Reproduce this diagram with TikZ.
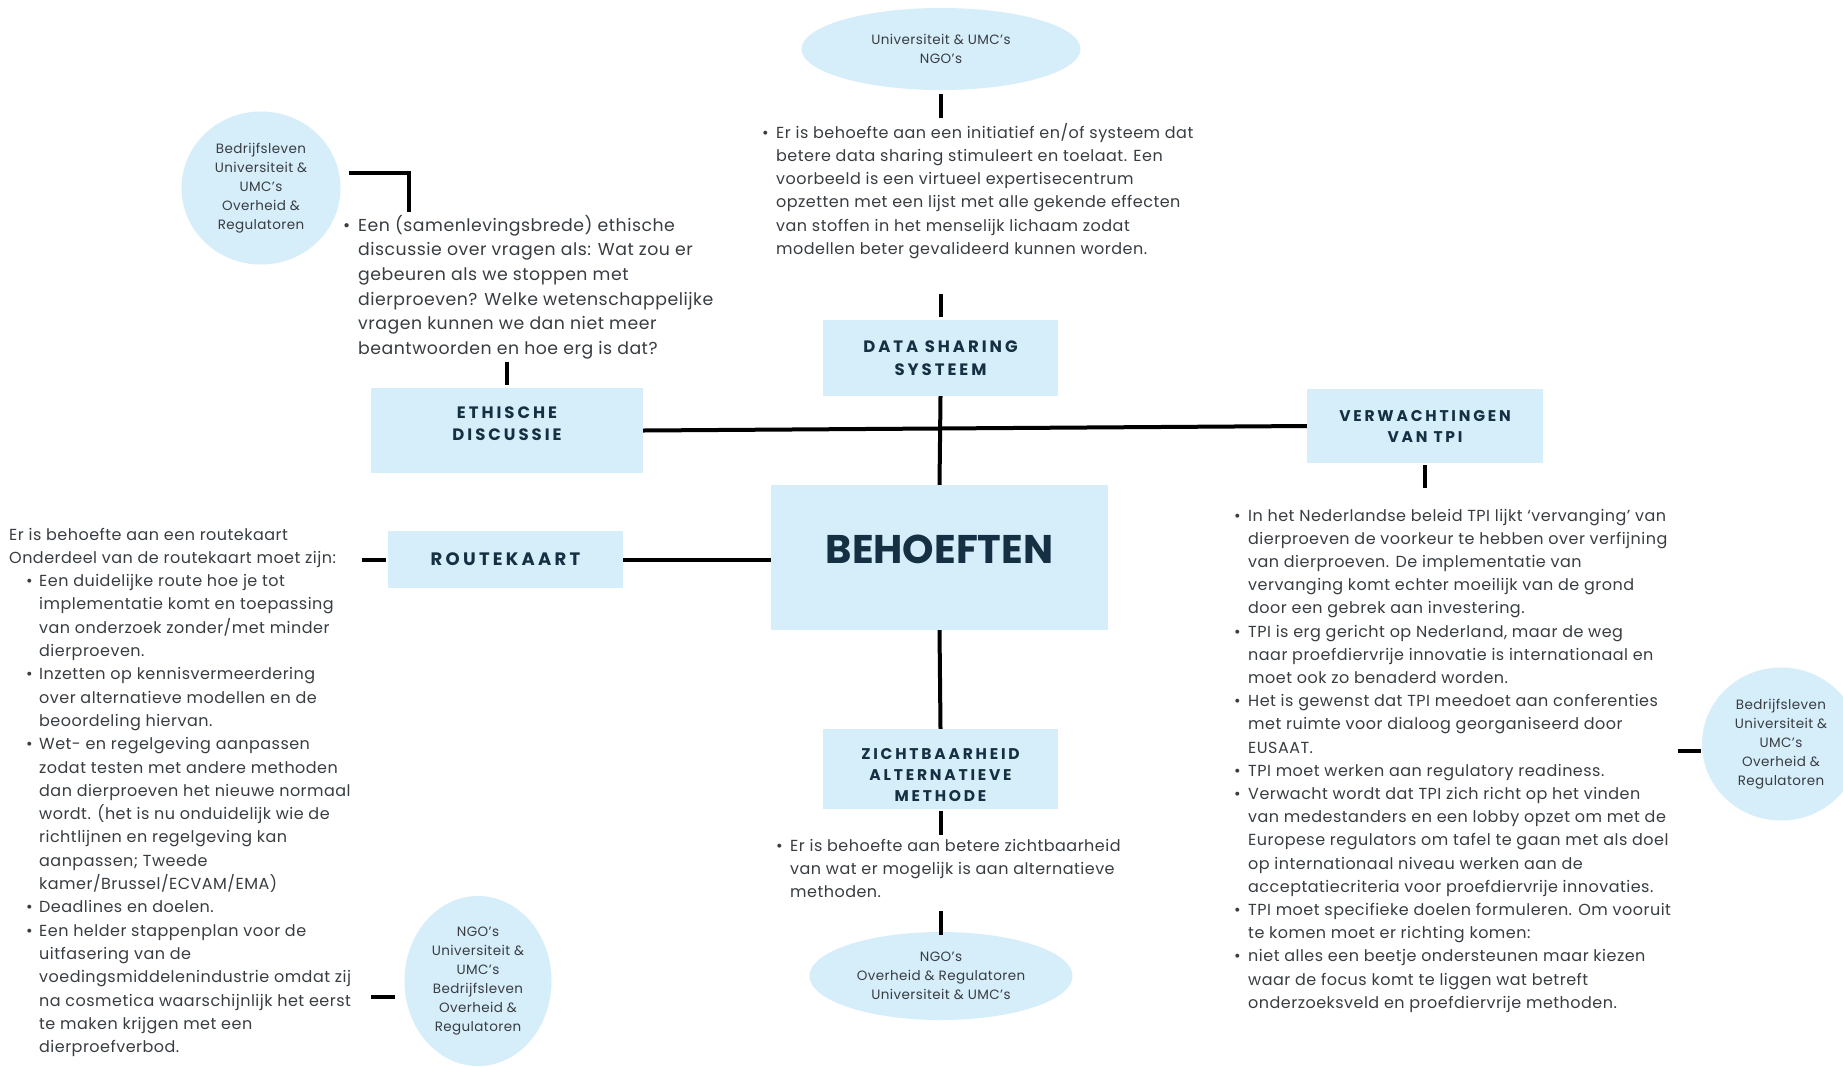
\documentclass[tikz,border=0pt]{standalone}
\usepackage{fontspec}
\setmainfont{Poppins}
\newfontfamily\headfont[LetterSpace=18]{Poppins}
\newfontfamily\bodyfont[LetterSpace=3]{Poppins}
\definecolor{boxblue}{rgb}{0.84,0.93,0.98}
\definecolor{headnavy}{rgb}{0.08,0.19,0.26}
\definecolor{bodygray}{rgb}{0.22,0.24,0.26}
\usetikzlibrary{shapes.geometric}

\begin{document}
\begin{tikzpicture}[x=1pt,y=-1pt,
  block/.style n args={2}{fill=boxblue,text=headnavy,align=center,inner sep=0pt,
    font=\headfont\bfseries\fontsize{#1}{#2}\selectfont},
  group/.style={ellipse,fill=boxblue,text=bodygray,align=center,inner sep=0pt,
    font=\bodyfont\fontsize{13.5}{19}\selectfont},
  info/.style n args={2}{text=bodygray,anchor=base west,inner sep=0pt,
    font=\bodyfont\fontsize{#1}{#2}\selectfont},
  link/.style={line width=4pt}]

  \useasboundingbox[fill=white] (0,0) rectangle (1843,1066);

  \node[block={40}{48},minimum width=337,minimum height=145,font=\bfseries\fontsize{40}{48}\selectfont]
    (beh) at (939.5,557.5) {\raisebox{16pt}{BEHOEFTEN}};
  \node[block={16.5}{23.5},minimum width=235,minimum height=76] (ds) at (940.5,358) {DATA SHARING\\SYSTEEM};
  \node[block={16.5}{22.5},minimum width=272,minimum height=85] (eth) at (507,430.5)
    {ETHISCHE\\DISCUSSIE\rule[-14pt]{0pt}{14pt}};
  \node[block={15.5}{21},minimum width=236,minimum height=74] (verw) at (1425,426) {VERWACHTINGEN\\VAN TPI};
  \node[block={18}{23},minimum width=235,minimum height=57] (rk) at (505.5,559.5) {ROUTEKAART};
  \node[block={15.5}{21},minimum width=235,minimum height=80] (zicht) at (940.5,769)
    {\rule{0pt}{24pt}ZICHTBAARHEID\\ALTERNATIEVE\\METHODE};

  \node[group,minimum width=279,minimum height=82] (topell) at (941,49) {Universiteit \& UMC’s\\NGO’s};
  \node[group,minimum width=159,minimum height=153] (tlcirc) at (261,188)
    {Bedrijfsleven\\Universiteit \&\\UMC’s\\Overheid \&\\Regulatoren};
  \node[group,minimum width=158,minimum height=153] (rcirc) at (1781,744)
    {Bedrijfsleven\\Universiteit \&\\UMC’s\\Overheid \&\\Regulatoren};
  \node[group,minimum width=147,minimum height=170] (blcirc) at (478,981)
    {NGO’s\\Universiteit \&\\UMC’s\\Bedrijfsleven\\Overheid \&\\Regulatoren};
  \node[group,minimum width=263,minimum height=88] (botell) at (941,976)
    {NGO’s\\Overheid \& Regulatoren\\Universiteit \& UMC’s};

  \node[info={16}{23.3}] (dstext) at (762,138) {%
    \begin{tabular}[t]{@{}p{14pt}@{}l@{}}
      \textbullet & Er is behoefte aan een initiatief en/of systeem dat\\
      & betere data sharing stimuleert en toelaat. Een\\
      & voorbeeld is een virtueel expertisecentrum\\
      & opzetten met een lijst met alle gekende effecten\\
      & van stoffen in het menselijk lichaam zodat\\
      & modellen beter gevalideerd kunnen worden.
    \end{tabular}};
  \node[info={17.3}{24.7}] (ethtext) at (343,231) {%
    \begin{tabular}[t]{@{}p{15pt}@{}l@{}}
      \textbullet & Een (samenlevingsbrede) ethische\\
      & discussie over vragen als: Wat zou er\\
      & gebeuren als we stoppen met\\
      & dierproeven? Welke wetenschappelijke\\
      & vragen kunnen we dan niet meer\\
      & beantwoorden en hoe erg is dat?
    \end{tabular}};
  \node[info={16}{23.2}] (verwtext) at (1234,521) {%
    \begin{tabular}[t]{@{}p{14pt}@{}l@{}}
      \textbullet & In het Nederlandse beleid TPI lijkt ‘vervanging’ van\\
      & dierproeven de voorkeur te hebben over verfijning\\
      & van dierproeven. De implementatie van\\
      & vervanging komt echter moeilijk van de grond\\
      & door een gebrek aan investering.\\
      \textbullet & TPI is erg gericht op Nederland, maar de weg\\
      & naar proefdiervrije innovatie is internationaal en\\
      & moet ook zo benaderd worden.\\
      \textbullet & Het is gewenst dat TPI meedoet aan conferenties\\
      & met ruimte voor dialoog georganiseerd door\\
      & EUSAAT.\\
      \textbullet & TPI moet werken aan regulatory readiness.\\
      \textbullet & Verwacht wordt dat TPI zich richt op het vinden\\
      & van medestanders en een lobby opzet om met de\\
      & Europese regulators om tafel te gaan met als doel\\
      & op internationaal niveau werken aan de\\
      & acceptatiecriteria voor proefdiervrije innovaties.\\
      \textbullet & TPI moet specifieke doelen formuleren. Om vooruit\\
      & te komen moet er richting komen:\\
      \textbullet & niet alles een beetje ondersteunen maar kiezen\\
      & waar de focus komt te liggen wat betreft\\
      & onderzoeksveld en proefdiervrije methoden.
    \end{tabular}};
  \node[info={16}{23.3}] (rktext) at (9,540) {%
    \begin{tabular}[t]{@{\hspace{17pt}}p{13pt}@{}l@{}}
      \multicolumn{2}{@{}l@{}}{Er is behoefte aan een routekaart}\\
      \multicolumn{2}{@{}l@{}}{Onderdeel van de routekaart moet zijn:}\\
      \textbullet & Een duidelijke route hoe je tot\\
      & implementatie komt en toepassing\\
      & van onderzoek zonder/met minder\\
      & dierproeven.\\
      \textbullet & Inzetten op kennisvermeerdering\\
      & over alternatieve modellen en de\\
      & beoordeling hiervan.\\
      \textbullet & Wet- en regelgeving aanpassen\\
      & zodat testen met andere methoden\\
      & dan dierproeven het nieuwe normaal\\
      & wordt. (het is nu onduidelijk wie de\\
      & richtlijnen en regelgeving kan\\
      & aanpassen; Tweede\\
      & kamer/Brussel/ECVAM/EMA)\\
      \textbullet & Deadlines en doelen.\\
      \textbullet & Een helder stappenplan voor de\\
      & uitfasering van de\\
      & voedingsmiddelenindustrie omdat zij\\
      & na cosmetica waarschijnlijk het eerst\\
      & te maken krijgen met een\\
      & dierproefverbod.
    \end{tabular}};
  \node[info={16}{23.3}] (zichttext) at (776,851) {%
    \begin{tabular}[t]{@{}p{14pt}@{}l@{}}
      \textbullet & Er is behoefte aan betere zichtbaarheid\\
      & van wat er mogelijk is aan alternatieve\\
      & methoden.
    \end{tabular}};

  \coordinate (brk) at (409,212);

  \draw[link] (ds.south) -- (beh.north);
  \draw[link] (eth.east) -- (verw.west);
  \draw[link] (rk.east) -- (rk.east -| beh.west);
  \draw[link] (beh.south) -- (zicht.north);
  \draw[link,shorten <=4pt,shorten >=3pt] (topell.south) -- (topell.south |- dstext.north);
  \draw[link] ([yshift=3pt]ds.north) -- ++(0,-23);
  \draw[link] ([yshift=3pt]eth.north) -- ++(0,-23);
  \draw[link] ([xshift=8pt,yshift=15pt]tlcirc.east) -| (brk);
  \draw[link] ([yshift=-2pt]verw.south) -- ++(0,23);
  \draw[link] ([xshift=-1pt,yshift=-7pt]rcirc.west) -- ++(-23,0);
  \draw[link] ([xshift=-2pt]rk.west) -- ++(-24,0);
  \draw[link] ([xshift=-9pt,yshift=-16pt]blcirc.west) -- ++(-24,0);
  \draw[link] ([yshift=-2pt]zicht.south) -- ++(0,24);
  \draw[link] ([yshift=-3pt]botell.north) -- ++(0,-24);
\end{tikzpicture}
\end{document}
